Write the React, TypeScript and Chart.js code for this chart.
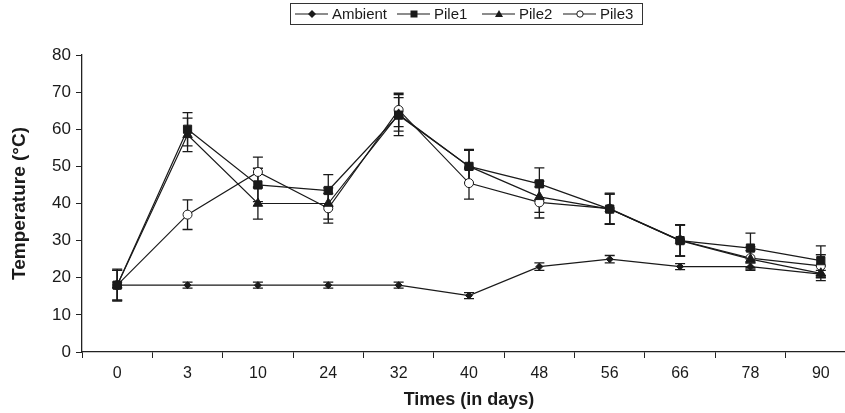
import React, { useEffect, useRef } from "react";
import { Chart, registerables } from "chart.js";

Chart.register(...registerables);

const days = ["0", "3", "10", "24", "32", "40", "48", "56", "66", "78", "90"];
const ambient = [18, 18, 18, 18, 18, 15.2, 23, 25, 23, 23, 21];
const pile1 = [18, 60, 45, 43.5, 63.8, 50, 45.3, 38.5, 30, 28, 24.6];
const pile2 = [18, 58.5, 40, 40, 64, 50, 41.8, 38.5, 30, 25, 21.2];
const pile3 = [18, 37, 48.5, 38.7, 65.2, 45.5, 40.3, 38.6, 30.1, 25.3, 23.2];
const ambientErr = [0.8, 0.8, 0.8, 0.8, 0.8, 0.8, 1, 1, 0.8, 1, 1];
const pile1Err = [4, 4.5, 4.5, 4.3, 5.5, 4.6, 4.3, 4, 4.2, 4, 4];
const pile2Err = [4, 4.5, 4.2, 4.2, 4.5, 4.3, 4.2, 4, 4.2, 2.3, 2];
const pile3Err = [4.3, 4, 4, 4, 4.5, 4.3, 4.2, 4.2, 4.2, 3, 3];
const yTicks = [0, 10, 20, 30, 40, 50, 60, 70, 80];

const seriesNames = ["Ambient", "Pile1", "Pile2", "Pile3"];
const LINE = "#1a1a1a";

const errorBars = {
  id: "errorBars",
  beforeDatasetsDraw(chart: any) {
    const ctx = chart.ctx;
    const y = chart.scales.y;
    ctx.save();
    ctx.strokeStyle = LINE;
    ctx.lineWidth = 1.3;
    chart.data.datasets.forEach((ds: any, i: number) => {
      const meta = chart.getDatasetMeta(i);
      const errs = ds.errors as number[];
      meta.data.forEach((pt: any, j: number) => {
        const v = ds.data[j];
        const e = errs[j];
        const x = pt.x;
        const yt = y.getPixelForValue(v + e);
        const yb = y.getPixelForValue(v - e);
        ctx.beginPath();
        ctx.moveTo(x, yt);
        ctx.lineTo(x, yb);
        ctx.moveTo(x - 5, yt);
        ctx.lineTo(x + 5, yt);
        ctx.moveTo(x - 5, yb);
        ctx.lineTo(x + 5, yb);
        ctx.stroke();
      });
    });
    ctx.restore();
  },
};

function drawMarker(ctx: any, style: string, x: number, y: number) {
  ctx.fillStyle = LINE;
  ctx.strokeStyle = LINE;
  ctx.lineWidth = 1;
  ctx.beginPath();
  if (style === "diamond") {
    ctx.moveTo(x, y - 4);
    ctx.lineTo(x + 4, y);
    ctx.lineTo(x, y + 4);
    ctx.lineTo(x - 4, y);
    ctx.closePath();
    ctx.fill();
  } else if (style === "square") {
    ctx.rect(x - 3.5, y - 3.5, 7, 7);
    ctx.fill();
  } else if (style === "triangle") {
    ctx.moveTo(x, y - 4);
    ctx.lineTo(x + 4, y + 3);
    ctx.lineTo(x - 4, y + 3);
    ctx.closePath();
    ctx.fill();
  } else {
    ctx.fillStyle = "#fff";
    ctx.arc(x, y, 3.2, 0, Math.PI * 2);
    ctx.fill();
    ctx.stroke();
  }
}

const legendAndTitles = {
  id: "legendAndTitles",
  afterDraw(chart: any) {
    const ctx = chart.ctx;
    ctx.save();
    // legend box
    ctx.strokeStyle = "#333";
    ctx.lineWidth = 1;
    ctx.strokeRect(290.5, 3.5, 352, 21);
    const styles = ["diamond", "square", "triangle", "circle"];
    const lineStarts = [295, 397, 482, 563];
    ctx.font = "15px 'Liberation Sans', Arial, sans-serif";
    ctx.textBaseline = "middle";
    ctx.textAlign = "left";
    seriesNames.forEach((name, i) => {
      const x0 = lineStarts[i];
      const cy = 14;
      ctx.strokeStyle = LINE;
      ctx.lineWidth = 1.2;
      ctx.beginPath();
      ctx.moveTo(x0, cy);
      ctx.lineTo(x0 + 33, cy);
      ctx.stroke();
      drawMarker(ctx, styles[i], x0 + 17, cy);
      ctx.fillStyle = "#1a1a1a";
      ctx.fillText(name, x0 + 37, cy + 0.5);
    });
    // axis titles
    ctx.fillStyle = "#1a1a1a";
    ctx.font = "bold 18px 'Liberation Sans', Arial, sans-serif";
    ctx.textAlign = "center";
    ctx.textBaseline = "middle";
    const area = chart.chartArea;
    ctx.fillText("Times (in days)", (area.left + area.right) / 2, 400);
    ctx.font = "bold 19px 'Liberation Sans', Arial, sans-serif";
    ctx.translate(20, (area.top + area.bottom) / 2);
    ctx.rotate(-Math.PI / 2);
    ctx.fillText("Temperature (\u00B0C)", 0, 0);
    ctx.restore();
  },
};

export default function App() {
  const ref = useRef<HTMLCanvasElement>(null);
  useEffect(() => {
    if (!ref.current) return;
    const mk = (label: string, data: number[], errors: number[], pointStyle: string, radius: number, bg: string) => ({
      label,
      data,
      errors,
      borderColor: LINE,
      borderWidth: 1.2,
      pointStyle,
      pointRadius: radius,
      pointBackgroundColor: bg,
      pointBorderColor: LINE,
      pointBorderWidth: 1,
      tension: 0,
      fill: false,
    });
    const chart = new Chart(ref.current, {
      type: "line",
      data: {
        labels: days,
        datasets: [
          mk(seriesNames[0], ambient, ambientErr, "rectRot", 3.5, LINE),
          mk(seriesNames[1], pile1, pile1Err, "rect", 5.8, LINE),
          mk(seriesNames[2], pile2, pile2Err, "triangle", 5.5, LINE),
          mk(seriesNames[3], pile3, pile3Err, "circle", 4.5, "#ffffff"),
        ] as any,
      },
      options: {
        animation: false,
        responsive: false,
        devicePixelRatio: 1,
        layout: { padding: { top: 55, right: 14, left: 0, bottom: 0 } },
        plugins: { legend: { display: false }, tooltip: { enabled: false } },
        scales: {
          x: {
            offset: true,
            afterFit: (s: any) => {
              s.height = 61;
            },
            grid: { drawOnChartArea: false, drawTicks: true, tickLength: 6, offset: true, color: "#222" },
            border: { display: true, color: "#222", width: 1.3 },
            ticks: {
              color: "#1a1a1a",
              font: { family: "'Liberation Sans', Arial, sans-serif", size: 16 },
              padding: 6,
              maxRotation: 0,
            },
          },
          y: {
            min: 0,
            max: 80,
            afterFit: (s: any) => {
              s.width = 82;
            },
            afterBuildTicks: (s: any) => {
              s.ticks = yTicks.map((v) => ({ value: v }));
            },
            grid: { drawOnChartArea: false, drawTicks: true, tickLength: 6, color: "#222" },
            border: { display: true, color: "#222", width: 1.3 },
            ticks: {
              color: "#1a1a1a",
              font: { family: "'Liberation Sans', Arial, sans-serif", size: 17 },
              padding: 5,
            },
          },
        },
      },
      plugins: [errorBars, legendAndTitles],
    });
    return () => chart.destroy();
  }, []);
  return (
    <div style={{ position: "fixed", left: 0, top: 0, width: 845, height: 413, overflow: "hidden", background: "#fff" }}>
      <canvas ref={ref} width={870} height={413} style={{ display: "block" }} />
    </div>
  );
}
